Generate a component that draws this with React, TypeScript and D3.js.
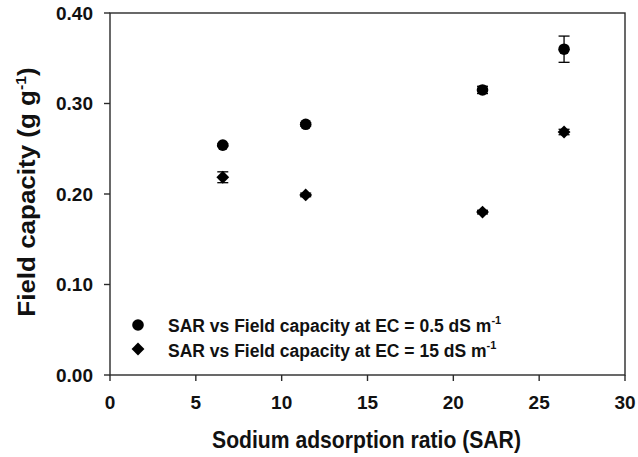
import React from "react";
import * as d3 from "d3";

const sar = [6.57, 11.4, 21.7, 26.45];
const fcLow = [0.254, 0.277, 0.315, 0.36];
const fcLowErr = [0.0015, 0.002, 0.004, 0.0145];
const fcHigh = [0.2185, 0.199, 0.18, 0.2685];
const fcHighErr = [0.006, 0.002, 0.002, 0.003];
const xTicks = [0, 5, 10, 15, 20, 25, 30];
const yTicks = [0, 0.1, 0.2, 0.3, 0.4];
const legendLabels = ["SAR vs Field capacity at EC = 0.5 dS m", "SAR vs Field capacity at EC = 15 dS m"];

const W = 638;
const H = 457;
const L = 110, R = 625, T = 13, B = 375;
const FONT = "'Liberation Sans', Arial, sans-serif";

export default function App() {
  const x = d3.scaleLinear().domain([0, 30]).range([L, R]);
  const y = d3.scaleLinear().domain([0, 0.4]).range([B, T]);
  const diamond = d3.symbol().type(d3.symbolDiamond2).size(105)();
  const axisColor = "#2a2a2a";
  const cap = 5.5;

  const errBars = (vals: number[], errs: number[]) =>
    sar.map((s, i) => {
      const cx = x(s);
      const y1 = y(vals[i] + errs[i]);
      const y2 = y(vals[i] - errs[i]);
      return (
        <g key={i} stroke="#000" strokeWidth={1.3}>
          <line x1={cx} x2={cx} y1={y1} y2={y2} />
          <line x1={cx - cap} x2={cx + cap} y1={y1} y2={y1} />
          <line x1={cx - cap} x2={cx + cap} y1={y2} y2={y2} />
        </g>
      );
    });

  return (
    <svg width={W} height={H} style={{ position: "absolute", left: 0, top: 0, background: "#fff" }} fontFamily={FONT}>
      <rect x={L} y={T} width={R - L} height={B - T} fill="none" stroke={axisColor} strokeWidth={1.4} />
      {xTicks.map((t) => (
        <g key={"x" + t}>
          <line x1={x(t)} x2={x(t)} y1={B} y2={B + 6} stroke={axisColor} strokeWidth={1.4} />
          <text x={x(t)} y={B + 34} textAnchor="middle" fontSize={19} fontWeight="bold" fill="#111">
            {t}
          </text>
        </g>
      ))}
      {yTicks.map((t) => (
        <g key={"y" + t}>
          <line x1={L - 6} x2={L} y1={y(t)} y2={y(t)} stroke={axisColor} strokeWidth={1.4} />
          <text x={L - 17} y={y(t) + 6.5} textAnchor="end" fontSize={19} fontWeight="bold" fill="#111">
            {t.toFixed(2)}
          </text>
        </g>
      ))}
      <text
        transform={`translate(${(L + R) / 2 - 1}, 448) scale(0.92,1)`}
        textAnchor="middle"
        fontSize={23}
        fontWeight="bold"
        fill="#111"
      >
        Sodium adsorption ratio (SAR)
      </text>
      <text
        transform={`translate(35, 192) rotate(-90) scale(1.13,1)`}
        textAnchor="middle"
        fontSize={23}
        fontWeight="bold"
        fill="#111"
      >
        Field capacity (g g<tspan dy={-9} fontSize={14}>-1</tspan><tspan dy={9}>)</tspan>
      </text>

      {errBars(fcLow, fcLowErr)}
      {errBars(fcHigh, fcHighErr)}
      {sar.map((s, i) => (
        <circle key={"c" + i} cx={x(s)} cy={y(fcLow[i])} r={5.8} fill="#000" />
      ))}
      {sar.map((s, i) => (
        <path key={"d" + i} d={diamond} transform={`translate(${x(s)},${y(fcHigh[i])})`} fill="#000" />
      ))}

      <g>
        <circle cx={138} cy={325} r={5.8} fill="#000" />
        <path d={diamond} transform={`translate(138,349)`} fill="#000" />
        {legendLabels.map((lab, i) => (
          <text key={lab} x={168} y={331.5 + i * 25} fontSize={17.5} fontWeight="bold" fill="#111">
            {lab}
            <tspan dy={-7.5} fontSize={11}>-1</tspan>
          </text>
        ))}
      </g>
    </svg>
  );
}
